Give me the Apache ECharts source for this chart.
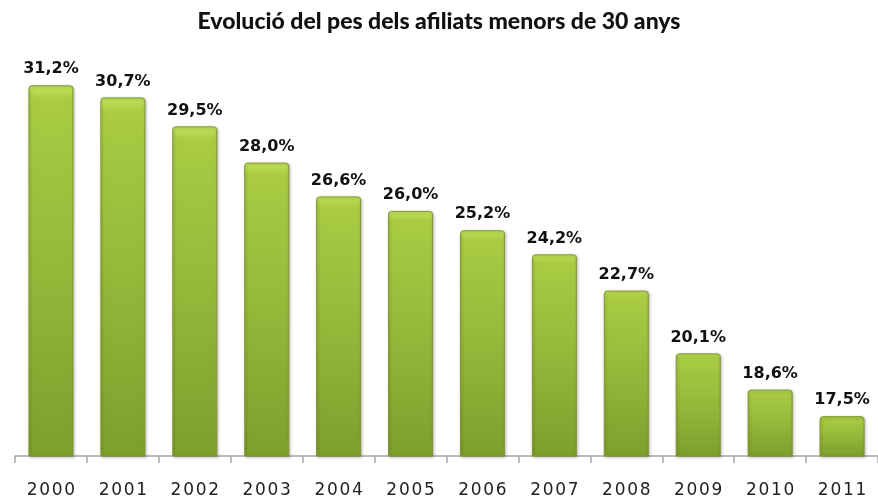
<!DOCTYPE html>
<html>
<head>
<meta charset="utf-8">
<script src="https://cdn.jsdelivr.net/npm/echarts@6/dist/echarts.min.js"></script>
<style>html,body{margin:0;padding:0;background:#fff}#c{width:878px;height:500px}</style>
</head>
<body>
<div id="c"></div>
<script>
const titleText = 'Evolució del pes dels afiliats menors de 30 anys';
const years = ['2000','2001','2002','2003','2004','2005','2006','2007','2008','2009','2010','2011'];
const shares = [31.2, 30.7, 29.5, 28.0, 26.6, 26.0, 25.2, 24.2, 22.7, 20.1, 18.6, 17.5];

const chart = echarts.init(document.getElementById('c'), null, {renderer: 'canvas'});
chart.setOption({
  backgroundColor: '#ffffff',
  animation: false,
  title: {
    text: titleText,
    left: 'center',
    top: 5,
    textStyle: {fontFamily: 'Lato', fontWeight: 900, fontSize: 23, color: '#111'}
  },
  grid: {left: 15, right: 0, top: 66, bottom: 44, containLabel: false},
  xAxis: {
    type: 'category',
    data: years,
    axisLine: {lineStyle: {color: '#a6a6a6', width: 1.5}},
    axisTick: {show: true, length: 7, alignWithLabel: false, lineStyle: {color: '#a6a6a6', width: 1.5}},
    axisLabel: {margin: 26, fontFamily: 'DejaVu Sans', fontSize: 17, color: '#222',
      formatter: v => v.split('').join('\u200A')}
  },
  yAxis: {
    type: 'value', min: 15.85, max: 32, show: false,
    splitLine: {show: false}
  },
  series: [{
    type: 'bar',
    data: shares,
    barWidth: 45,
    itemStyle: {
      color: new echarts.graphic.LinearGradient(0, 0, 0, 1, [
        {offset: 0, color: '#c4e35c'},
        {offset: 0.04, color: '#a9cc43'},
        {offset: 0.5, color: '#94b83a'},
        {offset: 1, color: '#7e9e2c'}
      ]),
      borderColor: '#7c9a2c',
      borderWidth: 1,
      borderRadius: [3, 3, 0, 0],
      shadowColor: 'rgba(0,0,0,0.25)',
      shadowBlur: 3,
      shadowOffsetX: 1,
      shadowOffsetY: 1
    },
    label: {
      show: true, position: 'top', distance: 8,
      fontFamily: 'DejaVu Sans', fontWeight: 'bold', fontSize: 16, color: '#111',
      formatter: p => p.value.toFixed(1).replace('.', ',') + '%'
    }
  }]
});
</script>
</body>
</html>
